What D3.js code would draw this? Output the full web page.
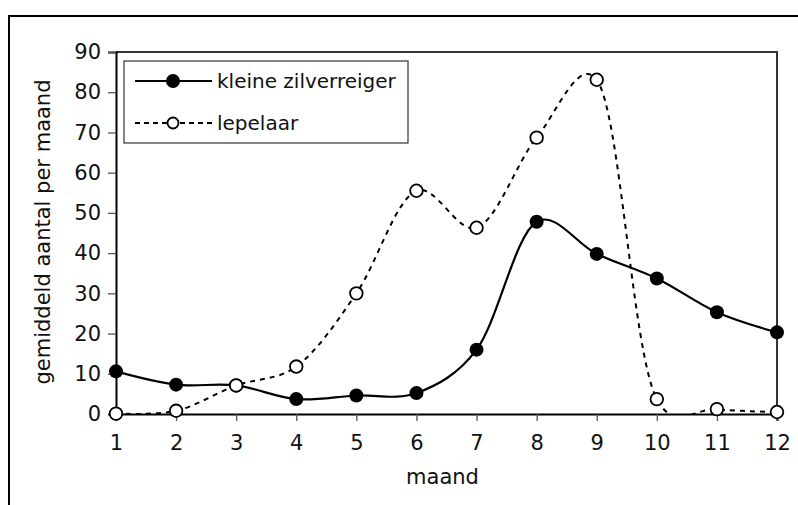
<!DOCTYPE html>
<html>
<head>
<meta charset="utf-8">
<script src="https://cdn.jsdelivr.net/npm/d3@7"></script>
<style>
  html, body { margin: 0; padding: 0; background: #fff; }
  svg { display: block; }
  text { font-family: "DejaVu Sans", "Noto Sans", sans-serif; fill: #111; }
</style>
</head>
<body>
<svg id="chart" width="798" height="505"></svg>
<script>
const months = [1, 2, 3, 4, 5, 6, 7, 8, 9, 10, 11, 12];
const zilverreiger = [10.6, 7.3, 7.1, 3.7, 4.6, 5.2, 16.0, 47.8, 39.8, 33.7, 25.3, 20.3];
const lepelaar = [0.1, 0.8, 7.1, 11.8, 30.0, 55.5, 46.3, 68.7, 83.1, 3.7, 1.2, 0.5];
const yTicks = [0, 10, 20, 30, 40, 50, 60, 70, 80, 90];
const seriesNames = ["kleine zilverreiger", "lepelaar"];
const xTitle = "maand";
const yTitle = "gemiddeld aantal per maand";

(function () {
const svg = d3.select("#chart");
const W = 798, H = 505;
const pL = 116, pR = 777, pT = 52, pB = 414;

// outer frame (extends past right/bottom edges)
svg.append("rect").attr("x", 9).attr("y", 16).attr("width", W).attr("height", H)
  .attr("fill", "none").attr("stroke", "#000").attr("stroke-width", 2);

const x = d3.scaleLinear().domain([1, 12]).range([pL, pR]);
const y = d3.scaleLinear().domain([0, 90]).range([pB, pT]);

// plot frame top & right
svg.append("path")
  .attr("d", `M${pL},${pT}H${pR}V${pB}`)
  .attr("fill", "none").attr("stroke", "#333").attr("stroke-width", 2);

svg.append("defs").append("clipPath").attr("id", "clip")
  .append("rect").attr("x", pL - 10).attr("y", pT).attr("width", pR - pL + 20).attr("height", pB - pT);

// y axis
const yAxis = svg.append("g").attr("transform", `translate(${pL},0)`)
  .call(d3.axisLeft(y).tickValues(yTicks).tickSize(8).tickPadding(7).tickFormat(d3.format("d")));
yAxis.select(".domain").attr("stroke", "#000").attr("stroke-width", 2);
yAxis.selectAll(".tick line").attr("stroke", "#555").attr("stroke-width", 1.3);
yAxis.selectAll(".tick text").attr("font-size", 21).attr("font-family", "DejaVu Sans").attr("fill", "#111");

// x axis
const xAxis = svg.append("g").attr("transform", `translate(0,${pB})`)
  .call(d3.axisBottom(x).tickValues(months).tickSize(7).tickPadding(14).tickFormat(d3.format("d")));
xAxis.select(".domain").attr("stroke", "#000").attr("stroke-width", 2.2);
xAxis.selectAll(".tick line").attr("stroke", "#555").attr("stroke-width", 1.3);
xAxis.selectAll(".tick text").attr("font-size", 21).attr("font-family", "DejaVu Sans").attr("fill", "#111");

// titles
svg.append("text").attr("x", (pL + pR) / 2 - 4).attr("y", 484)
  .attr("text-anchor", "middle").attr("font-size", 21).text(xTitle);
svg.append("text").attr("transform", `translate(50,${232}) rotate(-90)`)
  .attr("text-anchor", "middle").attr("font-size", 21).text(yTitle);

const line = d3.line().x((d, i) => x(months[i])).y(d => y(d)).curve(d3.curveCatmullRom.alpha(0.2));

const g = svg.append("g").attr("clip-path", "url(#clip)");
g.append("path").attr("d", line(lepelaar)).attr("fill", "none")
  .attr("stroke", "#000").attr("stroke-width", 2).attr("stroke-dasharray", "5,5");
g.append("path").attr("d", line(zilverreiger)).attr("fill", "none")
  .attr("stroke", "#000").attr("stroke-width", 2.2);

svg.append("g").selectAll("circle").data(zilverreiger).join("circle")
  .attr("cx", (d, i) => x(months[i])).attr("cy", d => y(d)).attr("r", 7)
  .attr("fill", "#000");
svg.append("g").selectAll("circle").data(lepelaar).join("circle")
  .attr("cx", (d, i) => x(months[i])).attr("cy", d => y(d)).attr("r", 6.3)
  .attr("fill", "#fff").attr("stroke", "#000").attr("stroke-width", 1.8);

// legend
const lg = svg.append("g");
lg.append("rect").attr("x", 124).attr("y", 61).attr("width", 284).attr("height", 82)
  .attr("fill", "#fff").attr("stroke", "#333").attr("stroke-width", 1.2);
const legendY = [81, 123];
seriesNames.forEach((name, i) => {
  const yy = legendY[i];
  lg.append("line").attr("x1", 135).attr("x2", 212).attr("y1", yy).attr("y2", yy)
    .attr("stroke", "#000").attr("stroke-width", i === 0 ? 2 : 1.8)
    .attr("stroke-dasharray", i === 0 ? null : "5,4");
  lg.append("circle").attr("cx", 173).attr("cy", yy).attr("r", i === 0 ? 7 : 5.5)
    .attr("fill", i === 0 ? "#000" : "#fff").attr("stroke", "#000").attr("stroke-width", i === 0 ? 0 : 1.8);
  lg.append("text").attr("x", 217).attr("y", yy).attr("dy", "0.35em")
    .attr("font-size", 20).text(name);
});
})();
</script>
</body>
</html>
